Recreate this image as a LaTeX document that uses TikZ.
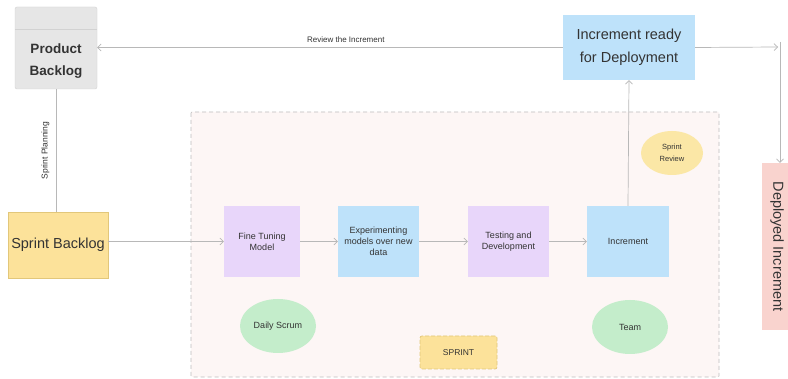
\documentclass[tikz,border=0pt]{standalone}
\usepackage{fontspec}
\setmainfont{Liberation Sans}
\usetikzlibrary{arrows.meta,shapes.geometric}
\definecolor{txt}{HTML}{333333}
\definecolor{lnc}{HTML}{B8B8B8}
\definecolor{pbfill}{HTML}{E6E6E6}
\definecolor{pbdraw}{HTML}{D2D2D2}
\definecolor{sbfill}{HTML}{FCE29A}
\definecolor{sbdraw}{HTML}{E2C77A}
\definecolor{purp}{HTML}{E8D6FA}
\definecolor{blu}{HTML}{BEE2FA}
\definecolor{frfill}{HTML}{FDF6F5}
\definecolor{frdraw}{HTML}{BDBDBD}
\definecolor{grn}{HTML}{C4EDCB}
\definecolor{yel}{HTML}{FBE7A6}
\definecolor{pnk}{HTML}{F9D3CE}
\tikzset{
  x=1pt,y=-1pt,
  every node/.style={text=txt,font=\fontsize{9}{11}\selectfont},
  conn/.style={draw=lnc,line width=0.7pt,-{Straight Barb[length=3.5pt,width=7pt]}},
  plain/.style={draw=lnc,line width=0.7pt},
  box/.style={rectangle,inner sep=0pt,align=center},
  stepbox/.style={box,minimum width=78pt,minimum height=71pt},
  ell/.style={ellipse,inner sep=0pt,align=center},
}
\begin{document}
\begin{tikzpicture}
\useasboundingbox[fill=white] (0,0) rectangle (788,379);
% sprint frame
\draw[fill=frfill,draw=frdraw,dashed,dash pattern=on 4pt off 3pt,line width=0.7pt,rounded corners=1pt] (191,112) rectangle (719,377);
% product backlog
\node[box,fill=pbfill,draw=pbdraw,rounded corners=2pt,minimum width=82pt,minimum height=82pt] (pb) at (56,48) {};
\draw[pbdraw,line width=0.6pt] (15,29) -- (97,29);
\node[font=\fontsize{13.5}{22}\selectfont\bfseries,align=center] (pbt) at (56,61) {Product\\Backlog};
% sprint backlog
\node[box,fill=sbfill,draw=sbdraw,minimum width=100pt,minimum height=66pt,font=\fontsize{14.5}{17}\selectfont] (sb) at (58,245) {Sprint Backlog};
% steps
\node[stepbox,fill=purp,minimum width=76pt] (ft) at (262,241.5) {Fine Tuning\\Model};
\node[stepbox,fill=blu,minimum width=81pt] (ex) at (378.5,241.5) {Experimenting\\models over new\\data};
\node[stepbox,fill=purp,minimum width=81pt] (td) at (508.5,241.5) {Testing and\\Development};
\node[stepbox,fill=blu,minimum width=82pt] (inc) at (628,241.5) {Increment};
% increment ready
\node[box,fill=blu,minimum width=132pt,minimum height=65pt,font=\fontsize{14.5}{23}\selectfont] (ird) at (629,47.5) {Increment ready\\for Deployment};
% deployed increment
\node[box,fill=pnk,minimum width=167pt,minimum height=30pt,rotate=-90,font=\fontsize{14.5}{17}\selectfont] (dep) at (777,246.5) {Deployed Increment};
\coordinate (corner) at (780,47);
% ellipses
\node[ell,fill=yel,minimum width=62pt,minimum height=44pt,font=\fontsize{7.5}{12}\selectfont] (sr) at (672,153) {Sprint\\Review};
\node[ell,fill=grn,minimum width=76pt,minimum height=54pt] (ds) at (278,326) {Daily Scrum};
\node[ell,fill=grn,minimum width=76pt,minimum height=54pt] (tm) at (630,327) {Team};
\node[box,fill=sbfill,draw=sbdraw,dashed,dash pattern=on 4pt off 2pt,line width=0.7pt,rounded corners=2pt,minimum width=77pt,minimum height=33pt,font=\fontsize{8.5}{10}\selectfont] (spr) at (458.5,352.5) {SPRINT};
% connectors
\draw[plain] (pb.south) -- node[rotate=90,anchor=south,yshift=3pt,font=\fontsize{8.5}{10}\selectfont,pos=0.5] {Sprint Planning} (sb.north -| pb.south);
\draw[conn] (ft.west -| sb.east) -- (ft.west);
\draw[conn] (ft.east) -- (ex.west);
\draw[conn] (ex.east) -- (td.west);
\draw[conn] (td.east) -- (inc.west);
\draw[conn] (inc.north) -- (ird.south);
\draw[conn] (ird.west) -- node[above=1pt,pos=0.466,font=\fontsize{8}{10}\selectfont] {Review the Increment} (pb.east |- ird.west);
\draw[conn] (ird.east) -- ([xshift=-2pt]corner);
\draw[conn] ([yshift=5pt]corner) -- (dep.west -| corner);
\end{tikzpicture}
\end{document}
